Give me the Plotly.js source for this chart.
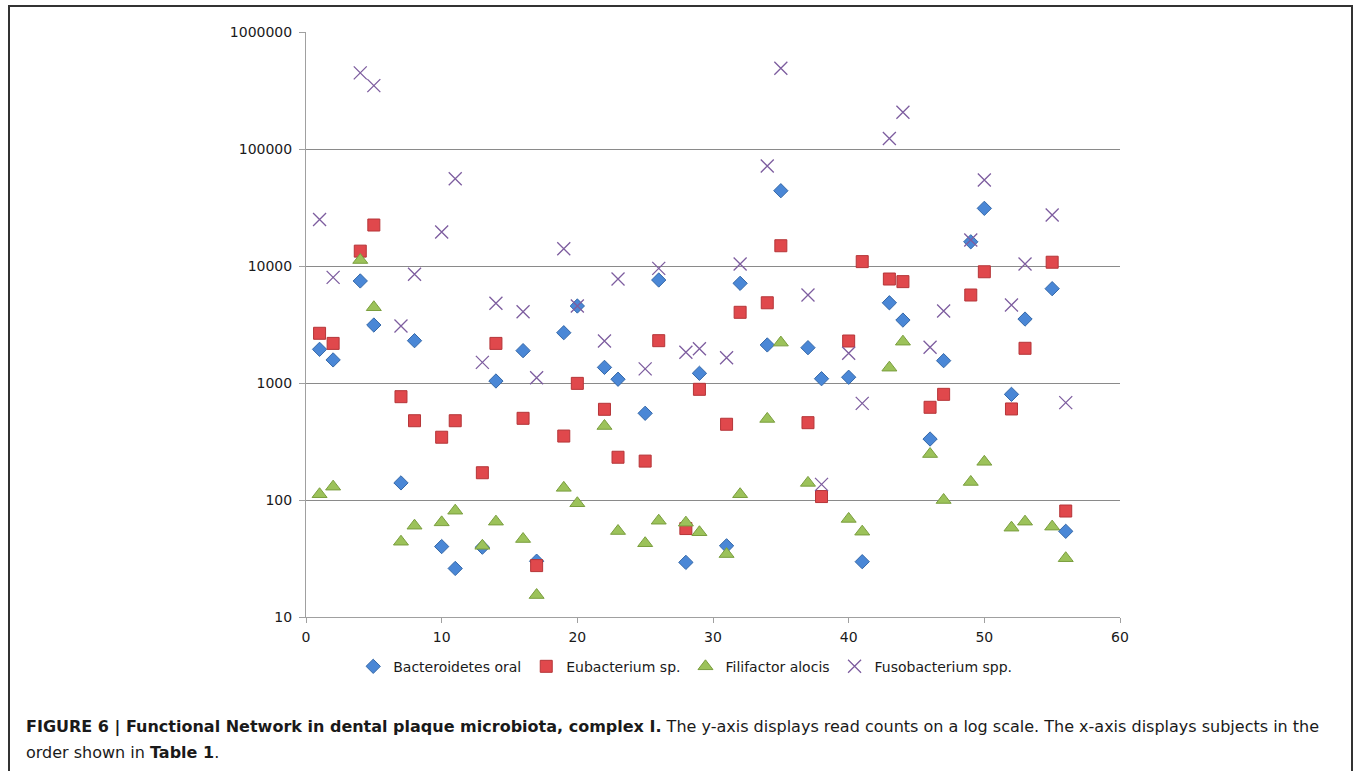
<!DOCTYPE html>
<html>
<head>
<meta charset="utf-8">
<script src="https://cdn.plot.ly/plotly-3.0.1.min.js"></script>
<style>
  html, body { margin: 0; padding: 0; background: #fff; }
  #chart { width: 1357px; height: 771px; }
  #frame { position: absolute; left: 8px; top: 5px; width: 1341px; height: 790px; border: 2px solid #333; pointer-events: none; }
</style>
</head>
<body>
<div id="chart"></div>
<div id="frame"></div>
<script>
// Subjects (x positions)
const subjects = [1,2,4,5,7,8,10,11,13,14,16,17,19,20,22,23,25,26,28,29,31,32,34,35,37,38,40,41,43,44,46,47,49,50,52,53,55,56];

const bacteroidetesOral = [1940,1575,7450,3130,140,2300,40,26,39.5,1040,1890,30,2690,4550,1360,1077,551,7590,29.3,1210,40.6,7110,2115,44000,2004,1088,1120,29.7,4850,3450,332,1552,16100,31100,800,3520,6400,54];

const eubacteriumSp = [2660,2180,13400,22400,764,476,344,476,171,2180,499,27.5,352,993,596,232,215,2300,57,883,444,4020,4850,14900,458,107,2285,10900,7740,7350,620,800,5650,8930,600,1980,10770,80.5];

const filifactorAlocis = [112,130,11250,4440,44,60.3,64.4,81,40.6,65.3,46.4,15.4,127,93.8,429,54.3,42.7,66.5,64,53,34.5,112,493,2214,140,null,68.9,53.6,1352,2255,247,100,142.6,212,58,65.3,59.2,31.8];

const fusobacteriumSpp = [25000,8000,447000,348000,3070,8490,19500,55700,1500,4800,4060,1110,14060,4550,2285,7740,1320,9550,1830,1960,1645,10400,71600,490000,5650,136,1796,670,123000,206000,2020,4120,16700,54300,4640,10400,27300,680];

const seriesNames = ["Bacteroidetes oral", "Eubacterium sp.", "Filifactor alocis", "Fusobacterium spp."];

const yTickVals = [10, 100, 1000, 10000, 100000, 1000000];
const yTickText = ["10", "100", "1000", "10000", "100000", "1000000"];
const xTickVals = [0, 10, 20, 30, 40, 50, 60];

const captionBold = "FIGURE 6 | Functional Network in dental plaque microbiota, complex I.";
const captionRest1 = " The y-axis displays read counts on a log scale. The x-axis displays subjects in the";
const captionRest2a = "order shown in ";
const captionBold2 = "Table 1";
const captionRest2b = ".";

const FONT = "DejaVu Sans, Verdana, sans-serif";

const traces = [
  {
    x: subjects, y: bacteroidetesOral, name: seriesNames[0], type: "scatter", mode: "markers",
    marker: { symbol: "diamond", size: 11, color: "#4a87d6", line: { color: "#3568a8", width: 1 } }
  },
  {
    x: subjects, y: eubacteriumSp, name: seriesNames[1], type: "scatter", mode: "markers",
    marker: { symbol: "square", size: 12, color: "#e0484c", line: { color: "#b53538", width: 1 } }
  },
  {
    x: subjects, y: filifactorAlocis, name: seriesNames[2], type: "scatter", mode: "markers",
    marker: { symbol: "triangle-up", size: 13, color: "#9cc25a", line: { color: "#7a9e3e", width: 1 } }
  },
  {
    x: subjects, y: fusobacteriumSpp, name: seriesNames[3], type: "scatter", mode: "markers",
    marker: { symbol: "x-thin", size: 13, color: "#7d5d9f", line: { color: "#7d5d9f", width: 1.3 } }
  }
];

const layout = {
  width: 1357, height: 771,
  paper_bgcolor: "#ffffff", plot_bgcolor: "#ffffff",
  margin: { l: 306, r: 237, t: 32, b: 154 },
  font: { family: FONT, size: 14, color: "#1a1a1a" },
  showlegend: true,
  legend: {
    orientation: "h", x: 0.058, xanchor: "left", y: -0.085, yanchor: "middle",
    font: { family: FONT, size: 14, color: "#1a1a1a" }, itemwidth: 30, bgcolor: "rgba(0,0,0,0)"
  },
  xaxis: {
    range: [0, 60], tickvals: xTickVals, ticks: "outside", ticklen: 5, tickcolor: "#a0a0a0",
    showgrid: false, zeroline: false, showline: true, linecolor: "#a0a0a0", linewidth: 1,
    ticklabelstandoff: 2,
    tickfont: { family: FONT, size: 14, color: "#1a1a1a" }
  },
  yaxis: {
    type: "log", range: [1, 6], tickvals: yTickVals, ticktext: yTickText,
    ticks: "outside", ticklen: 6, tickcolor: "#a0a0a0",
    showgrid: true, gridcolor: "#8a8a8a", gridwidth: 1,
    zeroline: false, showline: true, linecolor: "#a0a0a0", linewidth: 1,
    ticklabelstandoff: 4,
    tickfont: { family: FONT, size: 14, color: "#1a1a1a" }
  },
  annotations: [
    {
      xref: "paper", yref: "paper", x: (24 - 306) / 814, y: (617 - 727) / 585,
      xanchor: "left", yanchor: "middle", showarrow: false, align: "left",
      text: "<b>" + captionBold + "</b>" + captionRest1,
      font: { family: FONT, size: 16, color: "#1a1a1a" }
    },
    {
      xref: "paper", yref: "paper", x: (24 - 306) / 814, y: (617 - 752) / 585,
      xanchor: "left", yanchor: "middle", showarrow: false, align: "left",
      text: captionRest2a + "<b>" + captionBold2 + "</b>" + captionRest2b,
      font: { family: FONT, size: 16, color: "#1a1a1a" }
    }
  ]
};

Plotly.newPlot("chart", traces, layout, { displayModeBar: false, staticPlot: true });
</script>
</body>
</html>
